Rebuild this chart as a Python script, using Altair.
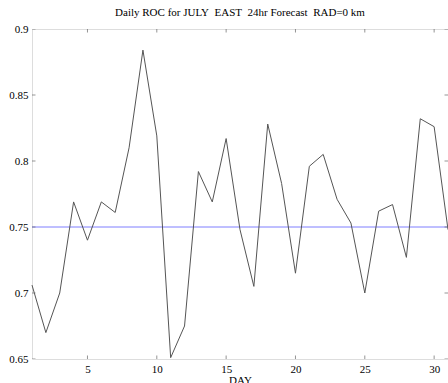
import altair as alt
import pandas as pd

days = list(range(1, 32))
roc = [0.706, 0.670, 0.700, 0.769, 0.740, 0.769, 0.761, 0.810, 0.884, 0.819,
       0.651, 0.675, 0.792, 0.769, 0.817, 0.748, 0.705, 0.828, 0.783, 0.715,
       0.796, 0.805, 0.771, 0.753, 0.700, 0.762, 0.767, 0.727, 0.832, 0.826,
       0.748]
ref_level = [0.75]
x_ticks = [5, 10, 15, 20, 25, 30]
y_ticks = [0.65, 0.7, 0.75, 0.8, 0.85, 0.9]

df = pd.DataFrame({"day": days, "roc": roc})
ref_df = pd.DataFrame({"v": ref_level})
xt = pd.DataFrame({"t": x_ticks})
yt = pd.DataFrame({"t": y_ticks})

FONT = "Liberation Serif"
xs = alt.Scale(domain=[1, 31], nice=False, zero=False)
ys = alt.Scale(domain=[0.65, 0.9], nice=False, zero=False)

xaxis = alt.Axis(values=x_ticks, title="DAY", ticks=False, domain=False,
                 grid=False, labelPadding=4, titlePadding=0,
                 labelFontSize=11, titleFontSize=11, titleFontWeight="normal",
                 labelFont=FONT, titleFont=FONT, labelColor="black",
                 titleColor="black")
yaxis = alt.Axis(values=y_ticks, title=None, ticks=False, domain=False,
                 grid=False, labelPadding=4, format="~g",
                 labelFontSize=11, labelFont=FONT, labelColor="black")

rule = alt.Chart(ref_df).mark_rule(color="#7f7fff", strokeWidth=1).encode(
    y=alt.Y("v:Q", scale=ys, axis=yaxis)
)

line = alt.Chart(df).mark_line(color="#555555", strokeWidth=1).encode(
    x=alt.X("day:Q", scale=xs, axis=xaxis),
    y=alt.Y("roc:Q", scale=ys, axis=yaxis),
)

tick_style = dict(color="#666666", thickness=1, size=7, clip=True)
bt = alt.Chart(xt).mark_tick(orient="vertical", **tick_style).encode(
    x=alt.X("t:Q", scale=xs, axis=xaxis), y=alt.datum(0.65, scale=ys, axis=yaxis))
tt = alt.Chart(xt).mark_tick(orient="vertical", **tick_style).encode(
    x=alt.X("t:Q", scale=xs, axis=xaxis), y=alt.datum(0.9, scale=ys, axis=yaxis))
lt = alt.Chart(yt).mark_tick(orient="horizontal", **tick_style).encode(
    y=alt.Y("t:Q", scale=ys, axis=yaxis), x=alt.datum(1, scale=xs, axis=xaxis))
rt = alt.Chart(yt).mark_tick(orient="horizontal", **tick_style).encode(
    y=alt.Y("t:Q", scale=ys, axis=yaxis), x=alt.datum(31, scale=xs, axis=xaxis))

title_text = "Daily ROC for JULY\u00a0 EAST\u00a0 24hr Forecast\u00a0 RAD=0 km"

chart = alt.layer(rule, line, bt, tt, lt, rt).properties(
    width=416, height=330,
    title=alt.TitleParams(title_text, font=FONT, fontSize=11, fontWeight="normal",
                          color="black", anchor="middle", baseline="alphabetic",
                          offset=11, frame="group", dy=15),
    autosize=alt.AutoSizeParams(type="none"),
    padding={"left": 32, "top": 29, "right": 0, "bottom": 24},
).configure_view(stroke="#666666", strokeWidth=1).configure(background="white")

chart.save("out.html", embed_options={"renderer": "svg", "actions": False})
